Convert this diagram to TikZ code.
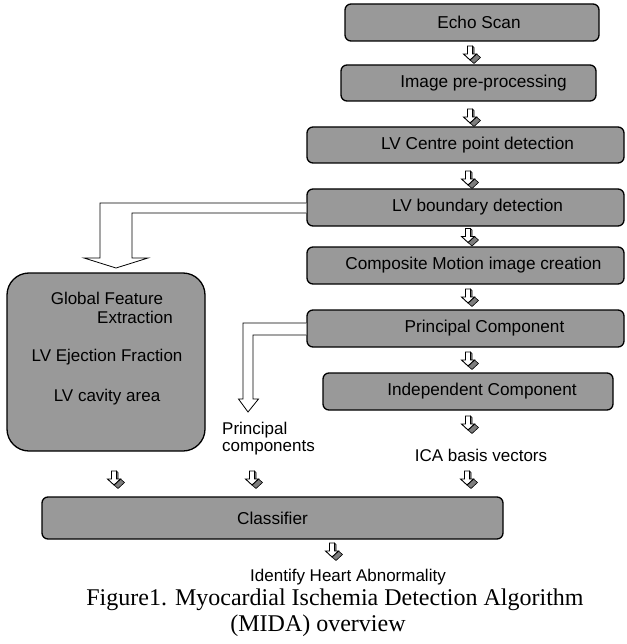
\documentclass[tikz,border=0pt]{standalone}
\usepackage{fontspec}
\setmainfont{Liberation Sans}
\newfontfamily\capfont{Liberation Serif}
\definecolor{boxgray}{RGB}{153,153,153}
\definecolor{shgray}{RGB}{125,125,125}
\tikzset{
  proc/.style={draw=black, line width=1.3pt, fill=boxgray, rounded corners=6pt,
    inner sep=0pt, font=\fontsize{17.2}{19}\selectfont},
  gbox/.style={draw=black, line width=1.3pt, fill=boxgray, rounded corners=22pt,
    inner sep=0pt},
  lbl/.style={inner sep=0pt, font=\fontsize{17}{17.5}\selectfont},
  hollow/.style={draw=black, line width=0.8pt, fill=white, line join=miter},
  smallarr/.pic={
    \filldraw[fill=shgray, draw=black, line width=0.6pt] (6.5,8) -- (0,14) -- (4,17.5) -- (10.5,11.5) -- cycle;
    \filldraw[fill=shgray, draw=black, line width=0.5pt] (2.5,0) -- (4,1.5) -- (4,8) -- (2.5,8) -- cycle;
    \filldraw[fill=white, draw=black, line width=0.9pt, line join=miter]
      (-2.5,0) -- (2.5,0) -- (2.5,8) -- (6.5,8) -- (0,14) -- (-6.5,8) -- (-2.5,8) -- cycle;
  }
}
\begin{document}
\begin{tikzpicture}[x=1pt,y=-1pt]
\useasboundingbox (0,0) rectangle (626,644);

% right column of process boxes
\node[proc, minimum width=254, minimum height=37] (echo) at (472,22.5) {\kern14pt Echo Scan};
\node[proc, minimum width=255, minimum height=36] (pre) at (468.5,83) {\kern30pt Image pre-processing};
\node[proc, minimum width=317, minimum height=36] (cent) at (465.5,145) {\kern24pt LV Centre point detection};
\node[proc, minimum width=317, minimum height=37] (lvb) at (465.5,207.5) {\kern24pt LV boundary detection};
\node[proc, minimum width=317, minimum height=37] (comp) at (465.5,265.5) {\kern16pt Composite Motion image creation};
\node[proc, minimum width=317, minimum height=37] (pc) at (465.5,328.5) {\kern38pt Principal Component};
\node[proc, minimum width=290, minimum height=37] (ic) at (468,391.5) {\kern28pt Independent Component};
\node[lbl] (ica) at (481,455) {ICA basis vectors};

% classifier
\node[proc, minimum width=461, minimum height=42] (cls) at (272.5,518) {Classifier};
\node[lbl] (ident) at (348,577) {Identify Heart Abnormality};

% global feature box
\node[gbox, minimum width=198, minimum height=178] (gfe) at (106,362) {};
\node[lbl] (g1) at (107,298) {Global Feature};
\node[lbl] (g2) at (135,317) {Extraction};
\node[lbl] (g3) at (107,357) {LV Ejection Fraction};
\node[lbl] (g4) at (107,397) {LV cavity area};

% principal components label
\node[lbl, anchor=west, align=left] (pcl) at (222,438.5) {Principal\\components};

% hollow arrows
\draw[hollow] ([yshift=4.5pt]lvb.west) -- (100,203) -- (100,258) -- (84,258) -- (116,268)
  -- (148,258) -- (132,258) -- (132,213) -- ([yshift=-5.5pt]lvb.west);
\draw[hollow] ([yshift=5.5pt]pc.west) -- (243,323) -- (243,399) -- (238.5,399) -- (248,412)
  -- (258.5,399) -- (253,399) -- (253,335) -- ([yshift=-6.5pt]pc.west);

% small arrow icons
\pic at (470,46) {smallarr};
\pic at (470,109) {smallarr};
\pic at (468,171) {smallarr};
\pic at (468,228.5) {smallarr};
\pic at (468,289) {smallarr};
\pic at (468,352) {smallarr};
\pic at (468,416) {smallarr};
\pic at (114,471) {smallarr};
\pic at (252,471) {smallarr};
\pic at (467,471) {smallarr};
\pic at (332,543) {smallarr};

% caption
\node[inner sep=0pt, font=\capfont\fontsize{24}{27}\selectfont] (cap1) at (335,600) {Figure1. Myocardial Ischemia Detection Algorithm};
\node[inner sep=0pt, font=\capfont\fontsize{24}{27}\selectfont] (cap2) at (318,626) {(MIDA) overview};
\end{tikzpicture}
\end{document}
